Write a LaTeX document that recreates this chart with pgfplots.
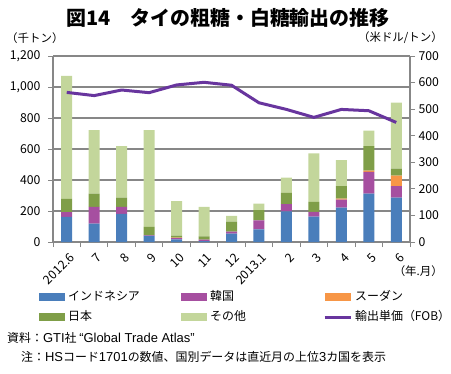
\documentclass[border=0pt]{standalone}
\usepackage{fontspec}
\setmainfont{Noto Sans CJK JP}
\newfontfamily\latf{Liberation Sans}
\newcommand\lat[1]{{\latf\fontsize{13}{13}\selectfont #1}}
\usepackage{pgfplots}
\usepackage{pgfplotstable}
\pgfplotsset{compat=1.18}
\definecolor{indo}{HTML}{4A7EBB}
\definecolor{korea}{HTML}{A64FA0}
\definecolor{sudan}{HTML}{F79646}
\definecolor{japan}{HTML}{7F9E48}
\definecolor{other}{HTML}{C3D69B}
\definecolor{linecol}{HTML}{68359E}
\definecolor{gridgray}{HTML}{878787}
\pgfplotstableread{
idx indo korea sudan japan other price
0 162 30 0 86 793 563
1 118 108 0 86 410 551
2 181 45 0 61 331 572
3 39 3 0 55 625 562
4 17 8 3 13 222 591
5 5 10 0 22 190 601
6 54 13 0 64 37 590
7 82 58 0 65 43 524
8 198 46 0 73 99 499
9 164 30 0 65 312 469
10 222 52 6 80 168 499
11 312 141 8 157 100 494
12 287 73 69 45 425 450
}\data
\pgfplotsset{
  barleg/.style={legend image code/.code={\path[##1,draw=none] (0bp,-4bp) rectangle (26bp,4bp);}},
  lineleg/.style={legend image code/.code={\draw[##1] (0bp,0bp) -- (26bp,0bp);}},
}
\begin{document}
\begin{tikzpicture}
\path[use as bounding box] (0bp,0bp) rectangle (451bp,-374bp);
\begin{axis}[
  at={(53bp,-242bp)}, anchor=south west, scale only axis,
  width=357bp, height=186bp,
  ybar stacked, bar width=11bp,
  xmin=-0.5, xmax=12.5, ymin=0, ymax=1200,
  axis x line*=bottom, axis y line*=left,
  axis line style={draw=gridgray, line width=1.3bp},
  ymajorgrids, grid style={draw=gridgray, line width=1.3bp},
  tick align=outside, major tick length=5bp,
  tick style={draw=gridgray, line width=1bp},
  ytick={0,200,...,1200},
  xtick={-0.5,0.5,...,12.5}, xticklabels={},
  extra x ticks={0,1,...,12},
  extra x tick labels={2012.6,7,8,9,10,11,12,2013.1,2,3,4,5,6},
  extra x tick style={major tick length=0pt, tick label style={xshift=8bp, yshift=-11bp, rotate=45, anchor=east}},
  tick label style={font=\fontsize{12.3}{12}\selectfont},
  yticklabel style={xshift=-4bp},
  /pgf/number format/assume math mode=true,
  /pgf/number format/1000 sep={,},
  legend columns=3,
  legend style={draw=none, fill=none, at={(-0.0476,-0.2527)}, anchor=north west,
    font=\fontsize{12}{12}\selectfont,
    nodes={inner sep=0pt, text height=9bp, text depth=3bp},
    /tikz/column sep=0pt, /tikz/row sep=8bp,
    /tikz/every odd column/.append style={column sep=3bp}},
  legend cell align=left,
]
\addplot[fill=indo, draw=none, barleg] table[x=idx,y=indo]{\data};
\addplot[fill=korea, draw=none, barleg] table[x=idx,y=korea]{\data};
\addplot[fill=sudan, draw=none, barleg] table[x=idx,y=sudan]{\data};
\addplot[fill=japan, draw=none, barleg] table[x=idx,y=japan]{\data};
\addplot[fill=other, draw=none, barleg] table[x=idx,y=other]{\data};
\addlegendimage{color=linecol, line width=3bp, lineleg}
\legend{\makebox[113bp][l]{インドネシア},\makebox[113bp][l]{韓国},\makebox[113bp][l]{スーダン},\makebox[113bp][l]{日本},\makebox[113bp][l]{その他},\makebox[113bp][l]{輸出単価（FOB）}}
\end{axis}
\begin{axis}[
  at={(53bp,-242bp)}, anchor=south west, scale only axis,
  width=357bp, height=186bp,
  xmin=-0.5, xmax=12.5, ymin=0, ymax=700,
  axis y line*=right, axis x line=none,
  axis line style={draw=gridgray, line width=1.3bp},
  tick align=outside, major tick length=5bp,
  tick style={draw=gridgray, line width=1bp},
  ytick={0,100,...,700},
  tick label style={font=\fontsize{12.3}{12}\selectfont},
  yticklabel style={xshift=0bp},
  /pgf/number format/assume math mode=true,
]
\addplot[color=linecol, line width=3bp, line join=round, mark=none] table[x=idx,y=price]{\data};
\end{axis}
\node[font=\fontsize{20}{20}\selectfont\bfseries] at (228bp,-18bp) {図14\quad タイの粗糖・白糖輸出の推移};
\node[anchor=west, font=\fontsize{11.5}{12}\selectfont, inner sep=0pt] at (6bp,-38bp) {（千トン）};
\node[anchor=east, font=\fontsize{11.5}{12}\selectfont, inner sep=0pt] at (443bp,-38bp) {（米ドル/トン）};
\node[anchor=east, font=\fontsize{11.5}{12}\selectfont, inner sep=0pt] at (443bp,-271bp) {（年.月）};
\node[anchor=west, font=\fontsize{12}{12}\selectfont, inner sep=0pt] at (7bp,-338bp) {資料：\lat{GTI}社 \lat{“Global Trade Atlas”}};
\node[anchor=west, font=\fontsize{12}{12}\selectfont, inner sep=0pt] at (21bp,-357bp) {注：\lat{HS}コード\lat{1701}の数値、国別データは直近月の上位\lat{3}カ国を表示};
\end{tikzpicture}
\end{document}
